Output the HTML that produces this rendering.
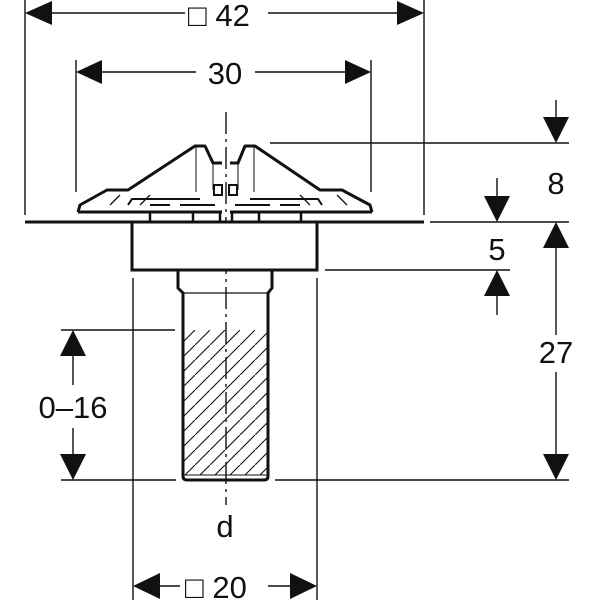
<!DOCTYPE html>
<html><head><meta charset="utf-8"><style>
html,body{margin:0;padding:0;background:#fff;}
svg{display:block;}
text{font-family:"Liberation Sans",sans-serif;font-size:31px;fill:#111;}
</style></head><body>
<svg width="600" height="600" viewBox="0 0 600 600" xmlns="http://www.w3.org/2000/svg">
<defs>
<pattern id="h" patternUnits="userSpaceOnUse" width="15" height="15">
<path d="M-2,17 L17,-2" stroke="#111" stroke-width="1.1"/>
</pattern>
</defs>
<g stroke="#111" fill="none" stroke-width="1.4">
<line x1="25" y1="0" x2="25" y2="215"/>
<line x1="424" y1="0" x2="424" y2="215"/>
<line x1="76" y1="60" x2="76" y2="192"/>
<line x1="371" y1="60" x2="371" y2="192"/>
<line x1="133" y1="278" x2="133" y2="600"/>
<line x1="317" y1="278" x2="317" y2="600"/>
<line x1="270" y1="143" x2="569" y2="143"/>
<line x1="430" y1="222" x2="569" y2="222"/>
<line x1="325" y1="270" x2="510" y2="270"/>
<line x1="275" y1="480" x2="569" y2="480"/>
<line x1="61" y1="330" x2="175" y2="330"/>
<line x1="61" y1="480" x2="176" y2="480"/>
<line x1="40" y1="13" x2="185" y2="13"/><line x1="268" y1="13" x2="410" y2="13"/>
<line x1="90" y1="72" x2="196" y2="72"/><line x1="255" y1="72" x2="356" y2="72"/>
<line x1="145" y1="586" x2="180" y2="586"/><line x1="268" y1="586" x2="305" y2="586"/>
<line x1="73" y1="345" x2="73" y2="385"/><line x1="73" y1="428" x2="73" y2="465"/>
<line x1="556" y1="100" x2="556" y2="125"/>
<line x1="497" y1="178" x2="497" y2="205"/>
<line x1="497" y1="285" x2="497" y2="315"/>
<line x1="556" y1="240" x2="556" y2="335"/><line x1="556" y1="372" x2="556" y2="465"/>
<line x1="226" y1="112" x2="226" y2="505" stroke-dasharray="22,5,3,5"/>
</g>
<g fill="#111">
<polygon points="25,13 52,1 52,25"/><polygon points="424,13 397,1 397,25"/>
<polygon points="76,72 102,60 102,84"/><polygon points="371,72 345,60 345,84"/>
<polygon points="133,586 160,573 160,599"/><polygon points="317,586 290,573 290,599"/>
<polygon points="73,330 60,356 86,356"/><polygon points="73,480 60,454 86,454"/>
<polygon points="556,143 543,117 569,117"/>
<polygon points="497,222 484,196 510,196"/>
<polygon points="497,270 484,296 510,296"/>
<polygon points="556,222 543,248 569,248"/>
<polygon points="556,480 543,454 569,454"/>
</g>
<g stroke="#111" fill="none">
<rect x="183" y="330" width="85" height="145" fill="url(#h)" stroke="none"/>
<line x1="25" y1="222" x2="424" y2="222" stroke-width="3"/>
<rect x="132" y="222" width="185" height="48" stroke-width="3" fill="#fff"/>
<path d="M178,270 V288 L183,293 V476 Q183,480 187,480 H264 Q268,480 268,476 V293 L272,288 V270" stroke-width="3" fill="none"/>
<line x1="183" y1="293" x2="268" y2="293" stroke-width="1.2"/>
<line x1="183" y1="475" x2="268" y2="475" stroke-width="1"/>
<path d="M78,212 L80,205 L107,190 L128,190 L195,146 L205,146 L213,163 L222,163" stroke-width="3" stroke-linejoin="round"/>
<path d="M230,163 L238,163 L245,146 L255,146 L320,190 L342,190 L370,205 L372,212" stroke-width="3" stroke-linejoin="round"/>
<line x1="78" y1="212" x2="222" y2="212" stroke-width="3"/>
<line x1="230" y1="212" x2="372" y2="212" stroke-width="3"/>
<path d="M128,205 L132,199 L200,199 M250,199 L318,199 L322,205" stroke-width="2"/>
<path d="M196,146 V192 M254,146 V192 M213,163 V190 M238,163 V190" stroke-width="1"/>
<path d="M110,205 L120,195 M337,195 L347,205 M140,205 L150,195 M300,195 L310,205" stroke-width="1.3"/>
<path d="M150,205 H170 M180,205 H215 M235,205 H270 M280,205 H300" stroke-width="2"/>
<path d="M150,212 V222 M193,212 V222 M220,212 V222 M232,212 V222 M259,212 V222 M301,212 V222" stroke-width="2.5"/>
<rect x="214" y="185" width="8" height="10" stroke-width="2"/><rect x="229" y="185" width="8" height="10" stroke-width="2"/>
</g>
<text x="188" y="26">□ 42</text>
<text x="225" y="84" text-anchor="middle">30</text>
<text x="73" y="418" text-anchor="middle">0–16</text>
<text x="225" y="537" text-anchor="middle">d</text>
<text x="185" y="598">□ 20</text>
<text x="556" y="194" text-anchor="middle">8</text>
<text x="497" y="260" text-anchor="middle">5</text>
<text x="556" y="363" text-anchor="middle">27</text>
</svg>
</body></html>
